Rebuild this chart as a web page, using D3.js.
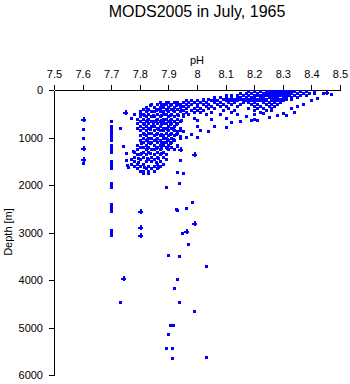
<!DOCTYPE html>
<html lang="en">
<head>
  <meta charset="UTF-8">
  <title>MODS2005 in July, 1965</title>
  <style>
    body, html {
      margin: 0;
      padding: 0;
      background-color: white;
    }
    text {
      font-family: "Liberation Sans", Arial, sans-serif;
      fill: black;
    }
  </style>
</head>
<body>
  <svg id="svg" width="350" height="384"></svg>
  <script src="https://d3js.org/d3.v7.min.js"></script>
  <script>
    const title = 'MODS2005 in July, 1965'
    const xTicks = [7.5, 7.6, 7.7, 7.8, 7.9, 8, 8.1, 8.2, 8.3, 8.4, 8.5]
    const yTicks = [0, 1000, 2000, 3000, 4000, 5000, 6000]

    // [pH, depth]
    const surfacePts = [
      [8.18,20],[8.20,20],[8.22,20],[8.24,20],[8.25,20],[8.26,20],[8.27,20],[8.28,20],[8.29,20],[8.30,20],[8.31,20],[8.32,20],[8.33,20],[8.34,20],[8.36,20],[8.38,20],[8.41,20],
      [8.15,60],[8.17,60],[8.19,60],[8.21,60],[8.23,60],[8.24,60],[8.25,60],[8.26,60],[8.27,60],[8.28,60],[8.29,60],[8.30,60],[8.31,60],[8.32,60],[8.33,60],[8.35,60],[8.37,60],[8.39,60],[8.41,60],[8.44,60],
      [8.10,100],[8.12,100],[8.14,100],[8.16,100],[8.18,100],[8.20,100],[8.21,100],[8.22,100],[8.23,100],[8.24,100],[8.25,100],[8.26,100],[8.27,100],[8.28,100],[8.29,100],[8.30,100],[8.31,100],[8.32,100],[8.34,100],[8.36,100],[8.38,100],[8.47,90],
      [8.06,140],[8.08,140],[8.10,140],[8.12,140],[8.14,140],[8.15,140],[8.17,140],[8.19,140],[8.20,140],[8.22,140],[8.23,140],[8.25,140],[8.26,140],[8.27,140],[8.28,140],[8.30,140],[8.31,140],[8.33,140],[8.35,140],
      [8.02,180],[8.04,180],[8.06,180],[8.09,180],[8.11,180],[8.13,180],[8.15,180],[8.16,180],[8.18,180],[8.20,180],[8.21,180],[8.23,180],[8.24,180],[8.26,180],[8.27,180],[8.29,180],[8.31,180],[8.33,180],
      [7.96,220],[7.98,220],[8.00,220],[8.02,220],[8.05,220],[8.07,220],[8.10,220],[8.12,220],[8.14,220],[8.17,220],[8.19,220],[8.21,220],[8.22,220],[8.24,220],[8.26,220],[8.28,220],[8.30,220],
      [7.95,260],[7.97,260],[7.99,260],[8.01,260],[8.03,260],[8.06,260],[8.08,260],[8.11,260],[8.13,260],[8.16,260],[8.18,260],[8.20,260],[8.23,260],[8.25,260],[8.27,260],[8.29,260],
      [7.96,300],[7.98,300],[8.00,300],[8.02,300],[8.04,300],[8.07,300],[8.09,300],[8.12,300],[8.15,300],[8.19,300],[8.21,300],[8.24,300],[8.26,300],[8.28,300],
      [7.95,340],[7.97,340],[8.00,340],[8.03,340],[8.05,340],[8.08,340],[8.10,340],[8.14,340],[8.20,340],[8.22,340],[8.25,340],[8.27,340],
      [7.96,380],[7.99,380],[8.01,380],[8.04,380],[8.06,380],[8.11,380],[8.18,380],[8.21,380],[8.23,380],[8.26,380],
      [7.95,420],[7.98,420],[8.00,420],[8.02,420],[8.09,420],[8.13,420],[8.20,420],[8.24,420],
      [7.96,460],[7.99,460],[8.01,460],[8.05,460],[8.12,460],[8.22,460],
      [7.95,500],[7.97,500],[8.03,500],[8.08,500],[8.14,500],[8.20,500]
    ]

    const blobPts = [
      [7.87,250],[7.89,250],[7.90,250],[7.92,250],[7.93,250],
      [7.84,300],[7.86,300],[7.88,300],[7.89,300],[7.91,300],[7.93,300],[7.94,300],
      [7.82,350],[7.85,350],[7.87,350],[7.88,350],[7.90,350],[7.92,350],[7.94,350],
      [7.81,400],[7.83,400],[7.86,400],[7.87,400],[7.89,400],[7.91,400],[7.93,400],
      [7.80,450],[7.82,450],[7.84,450],[7.85,450],[7.87,450],[7.88,450],[7.90,450],[7.92,450],[7.94,450],
      [7.80,500],[7.81,500],[7.83,500],[7.86,500],[7.88,500],[7.89,500],[7.91,500],[7.93,500],
      [7.80,550],[7.82,550],[7.84,550],[7.85,550],[7.87,550],[7.90,550],[7.92,550],[7.95,550],
      [7.79,600],[7.81,600],[7.83,600],[7.86,600],[7.88,600],[7.89,600],[7.91,600],[7.93,600],
      [7.80,650],[7.82,650],[7.84,650],[7.85,650],[7.87,650],[7.88,650],[7.90,650],[7.92,650],[7.94,650],
      [7.79,700],[7.81,700],[7.83,700],[7.86,700],[7.88,700],[7.89,700],[7.91,700],[7.93,700],
      [7.80,750],[7.82,750],[7.84,750],[7.85,750],[7.87,750],[7.90,750],[7.92,750],
      [7.79,800],[7.81,800],[7.83,800],[7.86,800],[7.88,800],[7.89,800],[7.91,800],[7.94,800],
      [7.80,850],[7.82,850],[7.85,850],[7.87,850],[7.88,850],[7.90,850],[7.92,850],
      [7.81,900],[7.83,900],[7.84,900],[7.86,900],[7.89,900],[7.91,900],[7.93,900],
      [7.80,950],[7.82,950],[7.85,950],[7.87,950],[7.88,950],[7.90,950],[7.92,950],
      [7.81,1000],[7.83,1000],[7.84,1000],[7.86,1000],[7.88,1000],[7.89,1000],[7.91,1000],[7.94,1000],
      [7.80,1050],[7.82,1050],[7.85,1050],[7.87,1050],[7.90,1050],[7.92,1050],
      [7.81,1100],[7.83,1100],[7.84,1100],[7.86,1100],[7.88,1100],[7.89,1100],[7.91,1100],
      [7.79,1150],[7.82,1150],[7.85,1150],[7.87,1150],[7.88,1150],[7.90,1150],[7.93,1150],
      [7.80,1200],[7.81,1200],[7.83,1200],[7.86,1200],[7.89,1200],[7.91,1200],
      [7.79,1250],[7.82,1250],[7.84,1250],[7.85,1250],[7.87,1250],[7.90,1250],[7.92,1250],
      [7.78,1300],[7.81,1300],[7.83,1300],[7.86,1300],[7.88,1300],
      [7.79,1350],[7.80,1350],[7.82,1350],[7.85,1350],[7.87,1350],[7.89,1350],
      [7.78,1400],[7.81,1400],[7.84,1400],[7.86,1400],[7.88,1400],
      [7.77,1450],[7.80,1450],[7.83,1450],[7.85,1450],[7.89,1450],
      [7.78,1500],[7.82,1500],[7.84,1500],[7.87,1500],
      [7.77,1550],[7.79,1550],[7.81,1550],[7.86,1550],[7.88,1550],
      [7.78,1600],[7.80,1600],[7.83,1600],[7.85,1600],[7.87,1600],
      [7.79,1650],[7.82,1650],[7.84,1650],[7.86,1650],
      [7.80,1700],[7.81,1700],[7.83,1700],[7.85,1700],
      [7.81,1750],[7.83,1750]
    ]

    // extra points filling the gaps of the dense blob
    const blobFillPts = [
      [7.835,325],[7.875,325],[7.905,325],[7.925,325],
      [7.825,425],[7.855,425],[7.895,425],[7.915,425],[7.945,425],
      [7.815,525],[7.845,525],[7.875,525],[7.905,525],[7.935,525],
      [7.825,625],[7.855,625],[7.875,625],[7.905,625],[7.945,625],
      [7.815,725],[7.845,725],[7.875,725],[7.905,725],[7.925,725],
      [7.835,825],[7.865,825],[7.895,825],[7.915,825],
      [7.815,925],[7.855,925],[7.875,925],[7.905,925],[7.925,925],
      [7.825,1025],[7.855,1025],[7.895,1025],[7.915,1025],
      [7.805,1125],[7.835,1125],[7.875,1125],[7.905,1125],
      [7.825,1225],[7.855,1225],[7.875,1225],[7.895,1225],
      [7.805,1325],[7.835,1325],[7.875,1325],
      [7.795,1425],[7.825,1425],[7.865,1425],
      [7.795,1525],[7.855,1525],
      [7.815,1625],[7.865,1625]
    ]

    const scatterPts = [
      [8.17,540],[8.25,560],[8.10,580],[8.05,620],[8.15,650],[8.20,620],[8.28,520],[8.30,480],[8.33,380],[8.35,340],[8.37,290],[8.40,200],[8.42,160],
      [8.00,632],[8.00,758],[7.94,842],[7.99,590],[8.06,758],[8.10,780],[8.12,675],[8.19,632],[8.21,632],[8.23,484],[8.31,526],[8.34,463],[8.26,421],
      [7.93,863],[7.95,863],[7.94,968],[7.96,990],[7.98,926],[8.00,990],[8.01,842],[8.04,863],
      [7.93,1179],[7.94,1474],[7.93,1726],[7.95,1747],
      [7.78,505],[7.77,590],[7.73,793],[7.74,1179],[7.752,1474],[7.76,1614],[7.776,1277],[7.755,1579],[7.75,1326],
      [7.938,1951],[7.891,2049],[7.927,2512]
    ]

    const deepPts = [
      [7.981,2365],[7.960,2491],[7.930,2519],[7.949,3004],[7.970,3249],[7.900,3467],[7.938,3488],
      [8.030,3712],[7.930,3972],[7.921,4175],[7.938,4456],[7.732,4456],[7.991,4660],[7.906,4955],[7.916,4955],
      [7.900,5137],[7.891,5439],[7.911,5439],[7.911,5642],[8.030,5628]
    ]

    const columnPts = [
      [7.6,828],[7.6,1017],[7.6,1537],
      [7.7,650],[7.7,750],[7.7,800],[7.7,850],[7.7,900],[7.7,950],[7.7,1000],[7.7,1050],[7.7,1150],[7.7,1200],[7.7,1250],[7.7,1300],
      [7.7,1500],[7.7,1550],[7.7,1600],[7.7,1650],[7.7,1950],[7.7,2000],[7.7,2050],[7.7,2400],[7.7,2450],[7.7,2500],[7.7,2550],
      [7.7,2950],[7.7,3000],[7.7,3050]
    ]

    const crossPts = [
      [7.6,617],[7.6,1214],[7.6,1453],[7.742,3965],[7.801,2547],[7.801,2890],[7.801,3060],
      [7.749,456],[7.990,2807],[7.960,2975],[7.99,1347],[7.94,1242],[8.45,40]
    ]

    const svg = d3.select('#svg')
    const xScale = d3.scaleLinear().domain([7.5, 8.5]).range([54, 340])
    const yScale = d3.scaleLinear().domain([0, 6000]).range([90, 375])

    svg.append('text')
      .attr('x', 197)
      .attr('y', 17)
      .attr('text-anchor', 'middle')
      .style('font-size', '16px')
      .text(title)

    svg.append('text')
      .attr('x', 197)
      .attr('y', 64)
      .attr('text-anchor', 'middle')
      .style('font-size', '11px')
      .text('pH')

    svg.append('text')
      .attr('transform', 'translate(12, 232) rotate(-90)')
      .attr('text-anchor', 'middle')
      .style('font-size', '11px')
      .text('Depth [m]')

    const topAxis = d3.axisTop(xScale)
      .tickValues(xTicks)
      .tickFormat(d3.format('~g'))
      .tickSize(5)
      .tickSizeOuter(0)
      .tickPadding(7)
    const gx = svg.append('g')
      .attr('transform', 'translate(0, 90)')
      .call(topAxis)
    gx.select('.domain').attr('shape-rendering', 'crispEdges')
    gx.selectAll('line').attr('shape-rendering', 'crispEdges')
    gx.selectAll('text').style('font-size', '11px').style('font-family', '"Liberation Sans", Arial, sans-serif')

    const leftAxis = d3.axisLeft(yScale)
      .tickValues(yTicks)
      .tickFormat(d3.format('d'))
      .tickSize(5)
      .tickSizeOuter(0)
      .tickPadding(6)
    const gy = svg.append('g')
      .attr('transform', 'translate(54, 0)')
      .call(leftAxis)
    gy.select('.domain').attr('shape-rendering', 'crispEdges')
    gy.selectAll('line').attr('shape-rendering', 'crispEdges')
    gy.selectAll('text').style('font-size', '11px').style('font-family', '"Liberation Sans", Arial, sans-serif')

    const squares = surfacePts.concat(blobPts, blobFillPts, scatterPts, deepPts, columnPts)
    svg.append('g')
      .selectAll('rect')
      .data(squares)
      .enter()
      .append('rect')
      .attr('x', d => Math.round(xScale(d[0])) - 1)
      .attr('y', d => Math.round(yScale(d[1])) - 1)
      .attr('width', 3)
      .attr('height', 3)
      .attr('fill', '#0000ff')
      .attr('shape-rendering', 'crispEdges')

    svg.append('g')
      .selectAll('path')
      .data(crossPts)
      .enter()
      .append('path')
      .attr('d', d => {
        const cx = Math.round(xScale(d[0])) + 0.5
        const cy = Math.round(yScale(d[1])) + 0.5
        return `M${cx - 2.5},${cy}H${cx + 2.5}M${cx},${cy - 2.5}V${cy + 2.5}`
      })
      .attr('stroke', '#0000ff')
      .attr('stroke-width', 2)
      .attr('fill', 'none')
      .attr('shape-rendering', 'crispEdges')
  </script>
</body>
</html>
